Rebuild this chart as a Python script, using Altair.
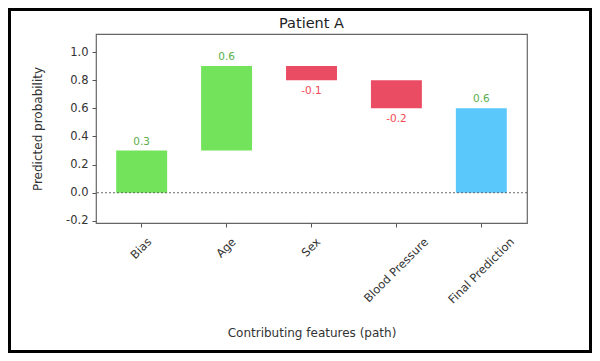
import altair as alt
import pandas as pd

# ---- data ----
features = ["Bias", "Age", "Sex", "Blood Pressure", "Final Prediction"]
starts = [0.0, 0.3, 0.9, 0.8, 0.0]
ends = [0.3, 0.9, 0.8, 0.6, 0.6]
value_labels = ["0.3", "0.6", "-0.1", "-0.2", "0.6"]
kinds = ["pos", "pos", "neg", "neg", "total"]
y_ticks = [-0.2, 0.0, 0.2, 0.4, 0.6, 0.8, 1.0]

df = pd.DataFrame({
    "feature": features,
    "start": starts,
    "end": ends,
    "label": value_labels,
    "kind": kinds,
})
df["top"] = df[["start", "end"]].max(axis=1)
df["bottom"] = df[["start", "end"]].min(axis=1)

FONT = "DejaVu Sans"
W, H = 431, 189
PAD = {"left": 88, "top": 26, "right": 65, "bottom": 130}

# per-label offset so rotated labels are centred under their tick (like matplotlib)
em = {"Bias": 2.098, "Age": 1.934, "Sex": 1.842, "Blood Pressure": 7.472, "Final Prediction": 7.704}
LFS = 11.5
label_offset = {
    "condition": [{"test": f"datum.value === '{k}'", "value": round(0.354 * v * LFS, 1)} for k, v in em.items()],
    "value": 0,
}

x_axis = alt.Axis(
    title="Contributing features (path)",
    labelAngle=315,
    labelAlign="right",
    labelBaseline="middle",
    labelPadding=13,
    labelOffset=label_offset,
    labelOverlap=False,
    labelFontSize=LFS,
    labelColor="#333333",
    tickSize=4,
    tickColor="#555555",
    domain=False,
    titleFontSize=12,
    titleFontWeight="normal",
    titleColor="#333333",
    titleX=W / 2,
    titleY=109,
    titleBaseline="middle",
)

y_axis = alt.Axis(
    title="Predicted probability",
    values=y_ticks,
    labelExpr="replace(format(datum.value, '.1f'), '\u2212', '-')",
    labelOverlap=False,
    labelFontSize=LFS,
    labelColor="#333333",
    labelPadding=4,
    tickSize=4,
    tickColor="#555555",
    grid=False,
    domain=False,
    titleFontSize=12,
    titleFontWeight="normal",
    titleColor="#333333",
    titleX=-59,
    titleY=H / 2,
    titleBaseline="middle",
)

x_scale = alt.Scale(paddingInner=0.4, paddingOuter=0.238)
y_scale = alt.Scale(domain=[-0.215, 1.128], nice=False, zero=False)

bars = alt.Chart(df).mark_bar().encode(
    x=alt.X("feature:N", sort=features, scale=x_scale, axis=x_axis),
    y=alt.Y("start:Q", scale=y_scale, axis=y_axis),
    y2="end:Q",
    color=alt.Color(
        "kind:N",
        scale=alt.Scale(domain=["pos", "neg", "total"], range=["#72e35a", "#ea4c64", "#5ac8fa"]),
        legend=None,
    ),
)

zero_line = alt.Chart(pd.DataFrame({"y": [0.0]})).mark_rule(
    color="#444444", strokeWidth=0.8, strokeDash=[2, 2]
).encode(y=alt.Y("y:Q", scale=y_scale, axis=y_axis))

pos_text = alt.Chart(df).transform_filter("datum.kind !== 'neg'").mark_text(
    baseline="bottom", dy=-4, font=FONT, fontSize=10.5, color="#5aae4a"
).encode(
    x=alt.X("feature:N", sort=features, scale=x_scale, axis=x_axis),
    y=alt.Y("top:Q", scale=y_scale, axis=y_axis),
    text="label:N",
)

neg_text = alt.Chart(df).transform_filter("datum.kind === 'neg'").mark_text(
    baseline="top", dy=6, font=FONT, fontSize=10.5, color="#f04b55"
).encode(
    x=alt.X("feature:N", sort=features, scale=x_scale, axis=x_axis),
    y=alt.Y("bottom:Q", scale=y_scale, axis=y_axis),
    text="label:N",
)

frame = alt.Chart(alt.Data(values=[{}])).mark_rect(
    fillOpacity=0, stroke="#000000", strokeWidth=3
).encode(
    x=alt.value(-PAD["left"] + 1.5),
    x2=alt.value(W + PAD["right"] - 1.5),
    y=alt.value(-PAD["top"] + 1.5),
    y2=alt.value(H + PAD["bottom"] - 1.5),
)

chart = alt.layer(bars, zero_line, pos_text, neg_text, frame).properties(
    width=W,
    height=H,
    title=alt.TitleParams("Patient A", fontSize=14.5, fontWeight="normal", color="#222222",
                          font=FONT, anchor="middle", offset=-34, frame="group",
                          baseline="alphabetic"),
    autosize=alt.AutoSizeParams(type="none"),
    padding=PAD,
    background="white",
).configure(
    font=FONT,
).configure_view(
    stroke="#666666", strokeWidth=1.2,
).configure_axis(
    labelFont=FONT, titleFont=FONT,
)

chart.save("out.html", embed_options={"renderer": "svg", "actions": False})
